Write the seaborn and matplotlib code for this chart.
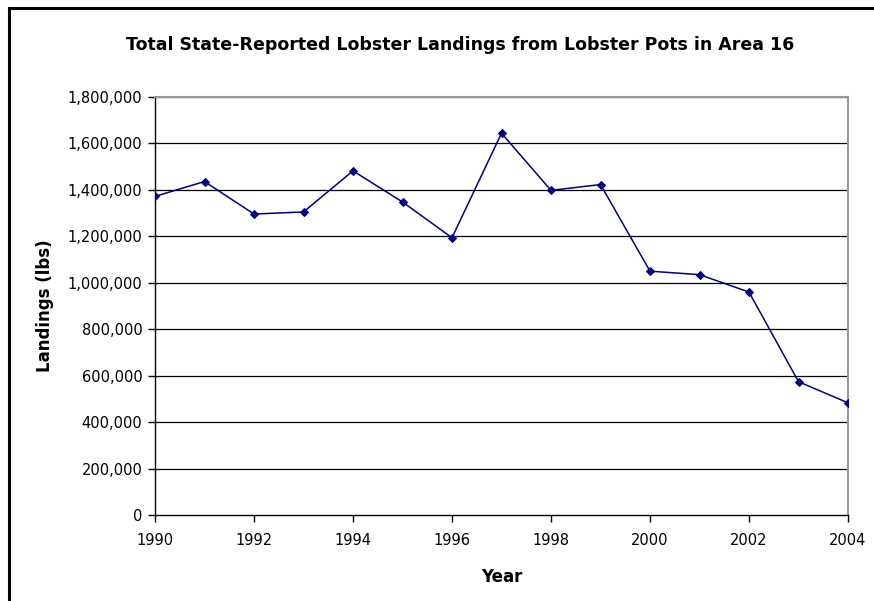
import matplotlib
matplotlib.use("Agg")
import matplotlib.pyplot as plt
import matplotlib.ticker as mticker
from matplotlib.patches import Rectangle
import seaborn as sns
import pandas as pd

# Values
years = [1990, 1991, 1992, 1993, 1994, 1995, 1996, 1997,
         1998, 1999, 2000, 2001, 2002, 2003, 2004]
landings = [1372000, 1436000, 1296000, 1305000, 1482000, 1348000, 1194000, 1644000,
            1398000, 1423000, 1050000, 1035000, 960000, 574000, 483000]
y_ticks = list(range(0, 1800001, 200000))
x_ticks = list(range(1990, 2005, 2))

df = pd.DataFrame({"Year": years, "Landings": landings})

sns.set_theme(style="white")
plt.rcParams["font.family"] = ["DejaVu Sans"]
plt.rcParams.update({"text.color": "black", "axes.labelcolor": "black",
                     "xtick.color": "black", "ytick.color": "black"})

fig = plt.figure(figsize=(8.74, 6.01), dpi=100)
ax = fig.add_axes([155 / 874, 1 - 515 / 601, (848 - 155) / 874, (515 - 97) / 601])

sns.lineplot(data=df, x="Year", y="Landings", ax=ax, color="#000080",
             marker="D", markersize=4.5, markeredgecolor="#000080",
             linewidth=1.1, zorder=3)

ax.set_xlim(1990, 2004)
ax.set_ylim(0, 1800000)
ax.set_xticks(x_ticks)
ax.set_yticks(y_ticks)
ax.yaxis.set_major_formatter(mticker.FuncFormatter(lambda v, p: f"{int(v):,}"))

for v in y_ticks[1:]:
    ax.axhline(v, color="black", linewidth=0.9, zorder=1)

for side in ["left", "bottom"]:
    ax.spines[side].set_color("black")
    ax.spines[side].set_linewidth(1.0)
for side in ["top", "right"]:
    ax.spines[side].set_color("#999999")
    ax.spines[side].set_linewidth(1.5)

ax.tick_params(axis="both", which="major", direction="out", length=5, width=1,
               color="black", labelsize=10.5, pad=4, left=True, bottom=True)
ax.tick_params(axis="x", pad=8)

ax.set_xlabel("Year", fontsize=12, fontweight="bold", labelpad=14)
ax.set_ylabel("Landings (lbs)", fontsize=12, fontweight="bold", labelpad=10)

fig.text(460 / 874, 1 - 45 / 601,
         "Total State-Reported Lobster Landings from Lobster Pots in Area 16",
         ha="center", va="center", fontsize=12.5, fontweight="bold")

# outer chart border (Excel chart area frame)
fig.patches.append(Rectangle((8.5 / 874, -0.05), 1.0, 1 - 8.5 / 601 + 0.05,
                             transform=fig.transFigure, fill=False,
                             edgecolor="black", linewidth=2.2))

fig.savefig("out.png", dpi=100, facecolor="white")
